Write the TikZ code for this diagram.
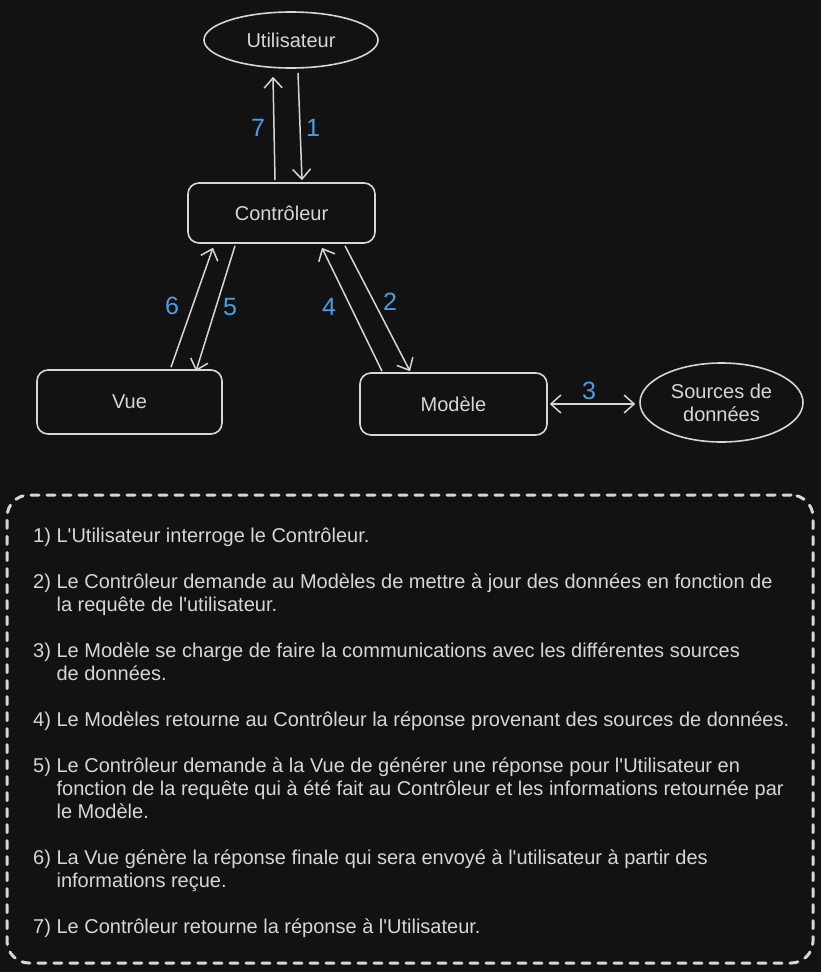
\documentclass[tikz,border=0pt]{standalone}
\usepackage{fontspec}
\setmainfont{Liberation Sans}[Ligatures=TeXOff]
\usetikzlibrary{arrows.meta,shapes.geometric}
\definecolor{bg}{HTML}{121212}
\definecolor{ink}{HTML}{D6D6D6}
\definecolor{lbl}{HTML}{4A9EE6}
\begin{document}
\begin{tikzpicture}[x=1pt,y=-1pt,
  every node/.style={text=ink, font=\fontsize{20}{23}\selectfont},
  boxnode/.style={draw=ink, line width=1.6pt, rounded corners=11pt, inner sep=0pt},
  ellnode/.style={draw=ink, line width=1.6pt, ellipse, inner sep=0pt},
  arr/.style={draw=ink, line width=1.5pt, -{Straight Barb[length=10pt,width=18pt,line width=1.5pt]}},
  darr/.style={draw=ink, line width=1.5pt, {Straight Barb[length=10pt,width=18pt,line width=1.5pt]}-{Straight Barb[length=10pt,width=18pt,line width=1.5pt]}},
  lab/.style={text=lbl, font=\fontsize{25}{28}\selectfont, inner sep=0pt},
  dashbox/.style={draw=ink, line width=3pt, dash pattern=on 8pt off 8pt, line cap=round, rounded corners=22pt, inner sep=0pt}
]
\fill[bg] (0,0) rectangle (821,972);
\useasboundingbox (0,0) rectangle (821,972);

\node[ellnode, minimum width=174pt, minimum height=56pt] (user) at (291,40) {Utilisateur};
\node[boxnode, minimum width=187pt, minimum height=60pt] (ctrl) at (281.5,213) {Contrôleur};
\node[boxnode, minimum width=185pt, minimum height=64pt] (vue) at (129.5,402) {Vue};
\node[boxnode, minimum width=187pt, minimum height=62pt] (model) at (453.5,404) {Modèle};
\node[ellnode, minimum width=163pt, minimum height=79pt, align=center] (src) at (721.5,402.5) {Sources de\\données};

% arrows
\draw[arr] ([shift={(-6.5,-2)}]ctrl.north) -- ([shift={(-18,8)}]user.south);
\draw[arr] ([shift={(7,4)}]user.south) -- ([shift={(20.5,-2)}]ctrl.north);
\draw[arr] ([shift={(41.5,-2)}]vue.north) -- ([shift={(-68.5,4)}]ctrl.south);
\draw[arr] ([shift={(-46.5,2)}]ctrl.south) -- ([shift={(66.5,2)}]vue.north);
\draw[arr] ([shift={(-71.5,-1)}]model.north) -- ([shift={(40.5,4)}]ctrl.south);
\draw[arr] ([shift={(63.5,2)}]ctrl.south) -- ([shift={(-43.5,-1)}]model.north);
\draw[darr] ([shift={(2,0)}]model.east) -- ([shift={(-4,1.5)}]src.west);

% labels
\node[lab] (l7) at (258,128) {7};
\node[lab] (l1) at (313,128) {1};
\node[lab] (l6) at (172,306) {6};
\node[lab] (l5) at (230,307) {5};
\node[lab] (l4) at (329,307) {4};
\node[lab] (l2) at (390,302) {2};
\node[lab] (l3) at (589,391) {3};

% legend frame
\node[dashbox, minimum width=806pt, minimum height=468pt] (frame) at (410,729) {};

\node[anchor=north west, inner sep=0pt] (legend) at (33,526) {%
\begin{tabular}{@{}l@{\hspace{0.28em}}l@{}}
1) & L'Utilisateur interroge le Contrôleur.\\
 & \\
2) & Le Contrôleur demande au Modèles de mettre à jour des données en fonction de\\
 & la requête de l'utilisateur.\\
 & \\
3) & Le Modèle se charge de faire la communications avec les différentes sources\\
 & de données.\\
 & \\
4) & Le Modèles retourne au Contrôleur la réponse provenant des sources de données.\\
 & \\
5) & Le Contrôleur demande à la Vue de générer une réponse pour l'Utilisateur en\\
 & fonction de la requête qui à été fait au Contrôleur et les informations retournée par\\
 & le Modèle.\\
 & \\
6) & La Vue génère la réponse finale qui sera envoyé à l'utilisateur à partir des\\
 & informations reçue.\\
 & \\
7) & Le Contrôleur retourne la réponse à l'Utilisateur.
\end{tabular}};
\end{tikzpicture}
\end{document}
